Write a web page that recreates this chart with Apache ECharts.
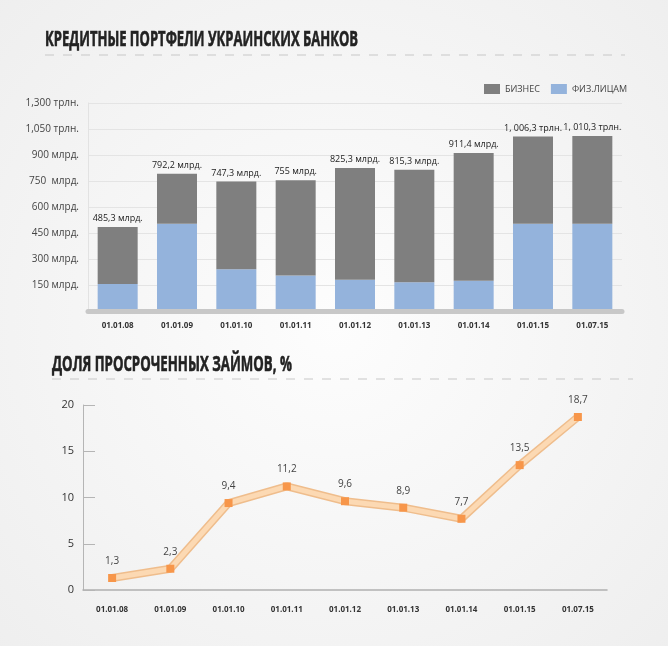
<!DOCTYPE html>
<html lang="ru">
<head>
  <meta charset="UTF-8">
  <title>Кредитные портфели</title>
  <script src="https://cdn.jsdelivr.net/npm/echarts@6/dist/echarts.min.js"></script>
  <style>
    html, body { margin: 0; padding: 0; }
    #wrap { width: 668px; height: 646px; }
  </style>
</head>
<body>
<div id="wrap"></div>
<script>
  // даты (общие для обоих графиков)
  const dates = ["01.01.08", "01.01.09", "01.01.10", "01.01.11", "01.01.12", "01.01.13", "01.01.14", "01.01.15", "01.07.15"]

  // кредитный портфель, млрд. грн
  const retail = [156, 504, 241, 205, 181, 166, 175, 504, 504]
  const business = [329.3, 288.2, 506.3, 550, 644.3, 649.3, 736.4, 502.3, 506.3]
  const totalLabels = ["485,3 млрд.", "792,2 млрд.", "747,3 млрд.", "755 млрд.", "825,3 млрд.", "815,3 млрд.", "911,4 млрд.", "1, 006,3 трлн.", "1, 010,3 трлн."]

  // подписи оси Y (как на оригинале)
  const yTicks = [150, 300, 450, 600, 750, 900, 1050, 1200]
  const yTickLabels = ["150 млрд.", "300 млрд.", "450 млрд.", "600 млрд.", "750  млрд.", "900 млрд.", "1,050 трлн.", "1,300 трлн."]

  // доля просроченных займов, %
  const overdue = [1.3, 2.3, 9.4, 11.2, 9.6, 8.9, 7.7, 13.5, 18.7]

  const textFont = "'Open Sans', 'Noto Sans', sans-serif"
  const titleFont = "'Open Sans', 'Noto Sans', sans-serif"

  const chart = echarts.init(document.querySelector("#wrap"))

  // заголовок, сжатый по горизонтали (узкий жирный шрифт)
  function heading(text, x, y, sx) {
    return {
      type: 'text', x: x, y: y, scaleX: sx,
      style: {
        text: text, fontFamily: titleFont, fontWeight: 'bold', fontSize: 21,
        fill: '#222', stroke: '#222', lineWidth: 0.6, verticalAlign: 'top'
      }
    }
  }

  const ops = {
    backgroundColor: {
      type: 'radial', x: 0.5, y: 0.5, r: 0.75,
      colorStops: [{ offset: 0, color: '#fdfdfd' }, { offset: 1, color: '#eeeeee' }]
    },
    animation: false,
    graphic: [
      heading("КРЕДИТНЫЕ ПОРТФЕЛИ УКРАИНСКИХ БАНКОВ", 45, 30, 0.62),
      heading("ДОЛЯ ПРОСРОЧЕННЫХ ЗАЙМОВ, %", 52, 355, 0.63),
      {
        type: 'line', shape: { x1: 45, y1: 55, x2: 625, y2: 55 },
        style: { stroke: '#c8c8c8', lineWidth: 1, lineDash: [9, 9] }
      },
      {
        type: 'line', shape: { x1: 52, y1: 379, x2: 633, y2: 379 },
        style: { stroke: '#c8c8c8', lineWidth: 1, lineDash: [9, 9] }
      }
    ],
    legend: {
      data: ["БИЗНЕС", "ФИЗ.ЛИЦАМ"],
      left: 479, top: 79,
      icon: 'rect',
      itemWidth: 16, itemHeight: 10, itemGap: 11,
      textStyle: { fontFamily: textFont, fontSize: 9, color: '#444' }
    },
    grid: [
      { left: 88, right: 46, top: 103, bottom: 335 },
      { left: 83, right: 61, top: 405, bottom: 56 }
    ],
    xAxis: [
      {
        type: 'category', gridIndex: 0, data: dates, z: 3,
        axisLine: { lineStyle: { color: '#c8c8c8', width: 5 } },
        axisTick: { show: false },
        axisLabel: { fontFamily: textFont, fontSize: 8, fontWeight: 'bold', color: '#333', margin: 11 }
      },
      {
        type: 'category', gridIndex: 1, data: dates,
        axisLine: { lineStyle: { color: '#b0b0b0', width: 1.5 } },
        axisTick: { inside: true, alignWithLabel: true, length: 4, lineStyle: { color: '#777' } },
        axisLabel: { fontFamily: textFont, fontSize: 8, fontWeight: 'bold', color: '#333', margin: 16 }
      }
    ],
    yAxis: [
      {
        type: 'value', gridIndex: 0, min: 0, max: 1200, interval: 150,
        axisLine: { show: true, lineStyle: { color: '#e2e2e2' } },
        axisTick: { show: false },
        splitLine: { lineStyle: { color: '#e4e4e4' } },
        axisLabel: {
          fontFamily: textFont, fontSize: 10, color: '#444', margin: 9,
          formatter: v => {
            const i = yTicks.indexOf(v)
            return i < 0 ? '' : yTickLabels[i]
          }
        }
      },
      {
        type: 'value', gridIndex: 1, min: 0, max: 20, interval: 5,
        axisLine: { show: true, lineStyle: { color: '#b5b5b5' } },
        axisTick: { show: true, inside: true, length: 12, lineStyle: { color: '#b5b5b5' } },
        splitLine: { show: false },
        axisLabel: { fontFamily: textFont, fontSize: 11, color: '#333', margin: 9 }
      }
    ],
    series: [
      {
        name: "ФИЗ.ЛИЦАМ", type: 'bar', stack: 'p', xAxisIndex: 0, yAxisIndex: 0,
        data: retail, barWidth: 40,
        itemStyle: { color: '#94b3dc' }
      },
      {
        name: "БИЗНЕС", type: 'bar', stack: 'p', xAxisIndex: 0, yAxisIndex: 0,
        data: business, barWidth: 40,
        itemStyle: { color: '#7f7f7f' },
        label: {
          show: true, position: 'top', distance: 4,
          fontFamily: textFont, fontSize: 9, color: '#222',
          formatter: p => totalLabels[p.dataIndex]
        }
      },
      {
        name: 'outline', type: 'line', xAxisIndex: 1, yAxisIndex: 1,
        data: overdue, symbol: 'none', silent: true,
        lineStyle: { color: '#efbd8c', width: 8 }
      },
      {
        name: 'overdue', type: 'line', xAxisIndex: 1, yAxisIndex: 1,
        data: overdue, symbol: 'rect', symbolSize: 8,
        itemStyle: { color: '#f7964a' },
        lineStyle: { color: '#fcd9b3', width: 5 },
        label: {
          show: true, position: 'top', distance: 8,
          fontFamily: textFont, fontSize: 10, color: '#444',
          formatter: p => String(p.value).replace('.', ',')
        }
      }
    ]
  }

  chart.setOption(ops)
</script>
</body>
</html>
